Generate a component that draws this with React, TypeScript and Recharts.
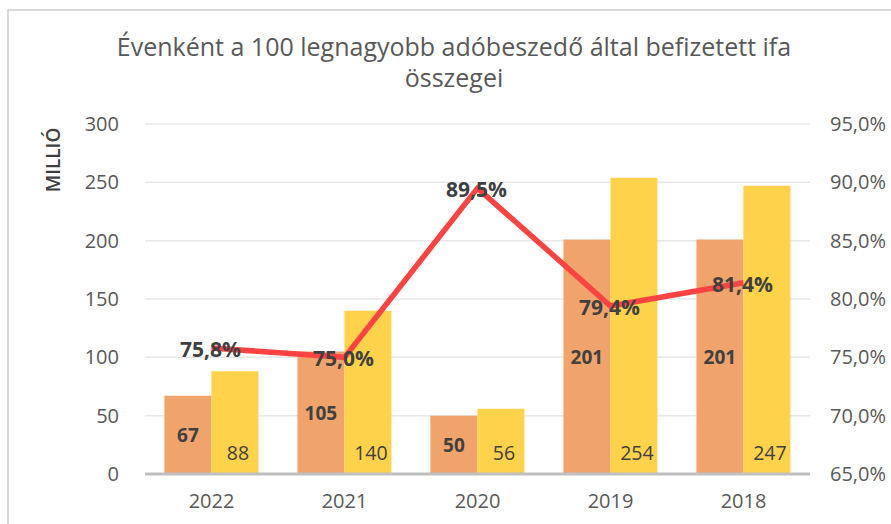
import React from "react";
import {
  ComposedChart,
  Bar,
  Line,
  XAxis,
  YAxis,
  CartesianGrid,
  LabelList,
} from "recharts";

const years = ["2022", "2021", "2020", "2019", "2018"];
const seriesA = [67, 105, 50, 201, 201];
const seriesB = [88, 140, 56, 254, 247];
const ratio = [75.8, 75.0, 89.5, 79.4, 81.4];
const leftTicks = [0, 50, 100, 150, 200, 250, 300];
const rightTicks = [65, 70, 75, 80, 85, 90, 95];

const data = years.map((year, i) => ({
  year,
  a: seriesA[i],
  b: seriesB[i],
  r: ratio[i],
}));

const FONT = "'Open Sans', 'DejaVu Sans', sans-serif";
const TXT = "#404040";
const AXIS_TXT = "#595959";

const fmtPct = (v: number) => `${v.toFixed(1).replace(".", ",")}%`;

const BarLabelA = (props: any) => {
  const { x, y, width, height, value } = props;
  return (
    <text
      x={x + width / 2}
      y={y + height / 2}
      textAnchor="middle"
      dominantBaseline="central"
      fontFamily={FONT}
      fontSize={19}
      fontWeight={700}
      fill={TXT}
    >
      {value}
    </text>
  );
};

const BarLabelB = (props: any) => {
  const { x, y, width, height, value } = props;
  return (
    <text
      x={x + width / 2 + 3}
      y={y + height - 22}
      textAnchor="middle"
      dominantBaseline="central"
      fontFamily={FONT}
      fontSize={19.5}
      fill={TXT}
    >
      {value}
    </text>
  );
};

const LineLabel = (props: any) => {
  const { x, y, value } = props;
  return (
    <text
      x={x - 1}
      y={y + 1}
      textAnchor="middle"
      dominantBaseline="central"
      fontFamily={FONT}
      fontSize={21}
      fontWeight={700}
      fill={TXT}
    >
      {fmtPct(value)}
    </text>
  );
};

export default function App() {
  return (
    <div
      style={{
        position: "fixed",
        left: 0,
        top: 0,
        width: 891,
        height: 524,
        overflow: "hidden",
        background: "#fff",
      }}
    >
      <div
        style={{
          position: "absolute",
          left: 7,
          top: 9,
          width: 1000,
          height: 1000,
          border: "2px solid #D9D9D9",
          boxSizing: "border-box",
        }}
      />
      <div
        style={{
          position: "absolute",
          left: 0,
          top: 31,
          width: 908,
          textAlign: "center",
          fontFamily: FONT,
          fontSize: 25,
          lineHeight: "31px",
          color: AXIS_TXT,
        }}
      >
        Évenként a 100 legnagyobb adóbeszedő által befizetett ifa
        <br />
        összegei
      </div>
      <div style={{ position: "absolute", left: 0, top: 0 }}>
        <ComposedChart
          width={891}
          height={524}
          data={data}
          margin={{ top: 124, right: 0, bottom: 20, left: 85 }}
          barCategoryGap="14.6%"
          barGap={0}
        >
          <CartesianGrid
            yAxisId="left"
            vertical={false}
            stroke="#E8E8E8"
            strokeWidth={1.5}
          />
          <XAxis
            dataKey="year"
            axisLine={{ stroke: "#BFBFBF", strokeWidth: 3 }}
            tickLine={false}
            tickSize={0}
            tickMargin={20}
            height={30}
            tick={{ fill: AXIS_TXT, fontSize: 20, fontFamily: FONT }}
          />
          <YAxis
            yAxisId="left"
            orientation="left"
            width={60}
            domain={[0, 300]}
            ticks={leftTicks}
            axisLine={false}
            tickLine={false}
            tickSize={0}
            tickMargin={26}
            interval={0}
            tick={{ fill: AXIS_TXT, fontSize: 20, fontFamily: FONT }}
          />
          <YAxis
            yAxisId="right"
            orientation="right"
            width={81}
            domain={[65, 95]}
            ticks={rightTicks}
            axisLine={false}
            tickLine={false}
            tickSize={0}
            tickMargin={20}
            interval={0}
            tickFormatter={fmtPct}
            tick={{ fill: AXIS_TXT, fontSize: 20, fontFamily: FONT, textAnchor: "start" }}
          />
          <Bar yAxisId="left" dataKey="a" fill="#F0A46C" isAnimationActive={false}>
            <LabelList dataKey="a" content={BarLabelA} />
          </Bar>
          <Bar yAxisId="left" dataKey="b" fill="#FFD24C" isAnimationActive={false}>
            <LabelList dataKey="b" content={BarLabelB} />
          </Bar>
          <Line
            yAxisId="right"
            dataKey="r"
            stroke="#FF4343"
            strokeWidth={5.5}
            dot={false}
            activeDot={false}
            isAnimationActive={false}
          >
            <LabelList dataKey="r" content={LineLabel} />
          </Line>
        </ComposedChart>
      </div>
      <div
        style={{
          position: "absolute",
          left: 53,
          top: 160,
          transform: "translate(-50%, -50%) rotate(-90deg)",
          fontFamily: FONT,
          fontSize: 19,
          fontWeight: 600,
          color: TXT,
          whiteSpace: "nowrap",
        }}
      >
        MILLIÓ
      </div>
    </div>
  );
}
